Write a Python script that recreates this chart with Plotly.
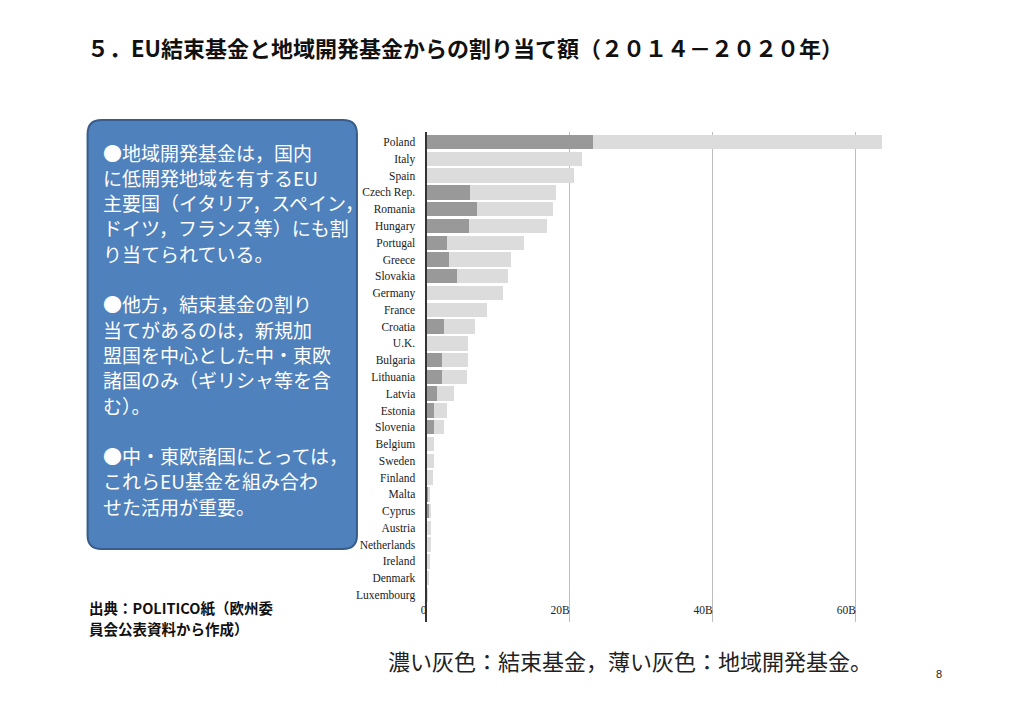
import plotly.graph_objects as go

OFF = 8  # page body margin of the browser
W, H = 1024 - OFF, 721 - OFF

countries = ["Poland", "Italy", "Spain", "Czech Rep.", "Romania", "Hungary", "Portugal",
             "Greece", "Slovakia", "Germany", "France", "Croatia", "U.K.", "Bulgaria",
             "Lithuania", "Latvia", "Estonia", "Slovenia", "Belgium", "Sweden", "Finland",
             "Malta", "Cyprus", "Austria", "Netherlands", "Ireland", "Denmark", "Luxembourg"]
# billions of euro
cohesion_fund = [23.3, 0, 0, 6.1, 7.0, 6.0, 2.9, 3.2, 4.2, 0, 0, 2.5, 0, 2.2,
                 2.1, 1.4, 1.1, 1.0, 0, 0, 0, 0.25, 0.3, 0, 0, 0, 0, 0]
regional_fund = [40.3, 21.7, 20.6, 12.0, 10.7, 10.9, 10.7, 8.6, 7.2, 10.7, 8.5, 4.3, 5.8, 3.6,
                 3.5, 2.4, 1.8, 1.4, 1.0, 1.0, 0.9, 0.3, 0.3, 0.6, 0.6, 0.5, 0.25, 0.05]
x_tickvals = [0, 20, 40, 60]
x_ticktext = ["0", "20B", "40B", "60B"]

title_text = "５．EU結束基金と地域開発基金からの割り当て額（２０１４－２０２０年）"
box_lines = ["●地域開発基金は，国内", "に低開発地域を有するEU", "主要国（イタリア，スペイン，",
             "ドイツ，フランス等）にも割", "り当てられている。", "",
             "●他方，結束基金の割り", "当てがあるのは，新規加", "盟国を中心とした中・東欧",
             "諸国のみ（ギリシャ等を含", "む）。", "",
             "●中・東欧諸国にとっては，", "これらEU基金を組み合わ", "せた活用が重要。"]
source_lines = ["出典：POLITICO紙（欧州委", "員会公表資料から作成）"]
caption_text = "濃い灰色：結束基金，薄い灰色：地域開発基金。"
page_no = "8"

JP = "Noto Sans CJK JP"
SERIF = "Liberation Serif, Times New Roman, serif"

def px(x):
    return (x - OFF) / W

def py(y):
    return 1 - (y - OFF) / H

fig = go.Figure()
fig.add_trace(go.Bar(y=countries, x=cohesion_fund, orientation="h", name="結束基金",
                     marker=dict(color="#999999", line=dict(width=0))))
fig.add_trace(go.Bar(y=countries, x=regional_fund, orientation="h", name="地域開発基金",
                     marker=dict(color="#dcdcdc", line=dict(width=0))))

# plot area geometry (screen pixels)
L, R, T, B = 423, 898, 132, 622

fig.update_layout(
    width=W, height=H,
    margin=dict(l=0, r=0, t=0, b=0),
    paper_bgcolor="white", plot_bgcolor="white",
    barmode="stack", bargap=0.14, showlegend=False,
    xaxis=dict(domain=[px(L), px(R)], range=[0, 66], tickvals=x_tickvals, ticktext=x_ticktext,
               showgrid=True, gridcolor="#bdbdbd", gridwidth=1, zeroline=False,
               ticks="", ticklabelposition="inside left", ticklabeloverflow="allow",
               tickfont=dict(family=SERIF, size=11.5, color="#222"), showline=False),
    yaxis=dict(domain=[py(B), py(T)], type="category", categoryarray=countries,
               categoryorder="array", range=[28.61, -0.6], showgrid=False, zeroline=False,
               showline=True, linecolor="#333333", linewidth=2, ticks="",
               ticklabelstandoff=7,
               tickfont=dict(family=SERIF, size=11.5, color="#222")),
)

# rounded blue box
x0, x1, y0, y1, r = 82, 353, 120, 549, 14
rx, ry = r / W, r / H
X0, X1, Y0, Y1 = px(x0), px(x1), py(y1), py(y0)
path = (f"M {X0+rx},{Y1} L {X1-rx},{Y1} Q {X1},{Y1} {X1},{Y1-ry} "
        f"L {X1},{Y0+ry} Q {X1},{Y0} {X1-rx},{Y0} L {X0+rx},{Y0} "
        f"Q {X0},{Y0} {X0},{Y0+ry} L {X0},{Y1-ry} Q {X0},{Y1} {X0+rx},{Y1} Z")
fig.add_shape(type="path", path=path, xref="paper", yref="paper",
              fillcolor="#4f81bd", line=dict(color="#385d8a", width=2), layer="above")

ann = []
ann.append(dict(text=title_text, x=px(79), y=py(47), xanchor="left", yanchor="middle",
                font=dict(family=JP, size=22, color="#111", weight="bold")))
for i, line in enumerate(box_lines):
    if line:
        ann.append(dict(text=line, x=px(96), y=py(152 + i * 25.3), xanchor="left", yanchor="middle",
                        font=dict(family=JP, size=19, color="white")))
for i, line in enumerate(source_lines):
    ann.append(dict(text=line, x=px(81), y=py(607 + i * 21), xanchor="left", yanchor="middle",
                    font=dict(family=JP, size=14.5, color="#111", weight="bold")))
ann.append(dict(text=caption_text, x=px(382), y=py(660), xanchor="left", yanchor="middle",
                font=dict(family=JP, size=22, color="#222")))
ann.append(dict(text=page_no, x=px(938), y=py(674), xanchor="center", yanchor="middle",
                font=dict(family="Liberation Sans, Arial", size=11, color="#222")))
for a in ann:
    a.update(xref="paper", yref="paper", showarrow=False)
fig.update_layout(annotations=ann)

fig.write_html("out.html")
